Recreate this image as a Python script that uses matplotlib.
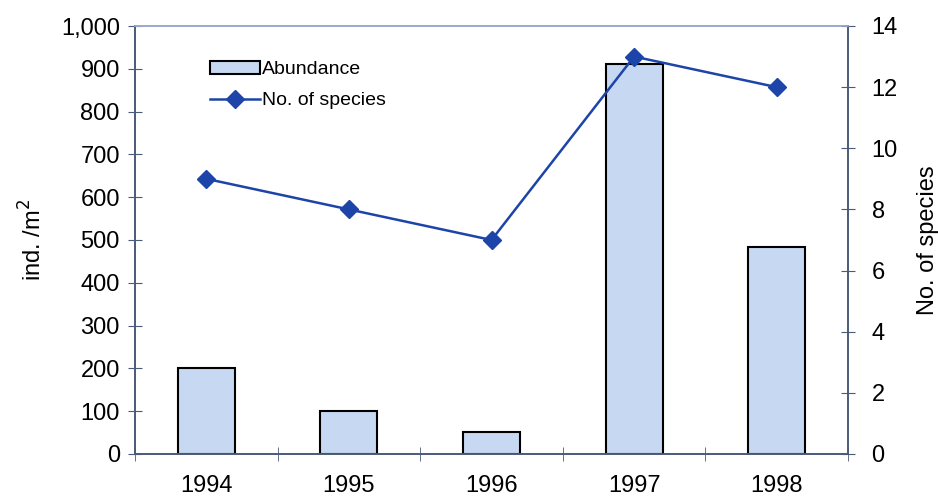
import matplotlib.pyplot as plt
import numpy as np
from matplotlib.ticker import FuncFormatter

plt.rcParams['font.family'] = ['Liberation Sans', 'DejaVu Sans']

years = ['1994', '1995', '1996', '1997', '1998']
abundance = [200, 100, 52, 912, 483]   # ind./m2
species = [9, 8, 7, 13, 12]            # no. of species

bar_col = '#c7d8f2'
line_col = '#1d44a8'
axis_col = '#4a5a78'

fig = plt.figure(figsize=(9.38, 5), dpi=100)
ax = fig.add_axes([0.144, 0.092, 0.76, 0.856])
x = np.arange(len(years))

bars = ax.bar(x, abundance, width=0.4, color=bar_col, edgecolor='black', linewidth=1.5, label='Abundance', zorder=2)
ax.set_ylim(0, 1000)
ax.set_xlim(-0.5, len(years) - 0.5)
ax.set_yticks(np.arange(0, 1001, 100))
ax.yaxis.set_major_formatter(FuncFormatter(lambda v, p: '{:,.0f}'.format(v)))
ax.set_xticks(x)
ax.set_xticklabels(years)
ax.set_xticks(np.arange(-0.5, len(years), 1), minor=True)
ax.tick_params(axis='x', which='major', length=0, pad=15, labelsize=17)
ax.tick_params(axis='x', which='minor', direction='inout', length=10, color=axis_col)
ax.tick_params(axis='y', direction='inout', length=10, color=axis_col, labelsize=17, pad=6)
ax.set_ylabel('ind. /m$^2$', fontsize=17, labelpad=10)

ax2 = ax.twinx()
ln, = ax2.plot(x, species, color=line_col, marker='D', markersize=9, linewidth=1.8, label='No. of species', zorder=3)
ax2.set_ylim(0, 14)
ax2.set_yticks(np.arange(0, 15, 2))
ax2.tick_params(axis='y', direction='inout', length=10, color=axis_col, labelsize=17, pad=12)
ax2.set_ylabel('No. of species', fontsize=17, labelpad=14)

for a in (ax, ax2):
    for s in a.spines.values():
        s.set_color(axis_col)
        s.set_linewidth(1.2)
    a.spines['top'].set_color('#9aa8cc')

ax.legend([bars, ln], ['Abundance', 'No. of species'], loc='upper left', bbox_to_anchor=(0.08, 0.96),
          frameon=False, fontsize=14, handlelength=2.6, handletextpad=0.1, labelspacing=0.7)

fig.savefig('out.png')
